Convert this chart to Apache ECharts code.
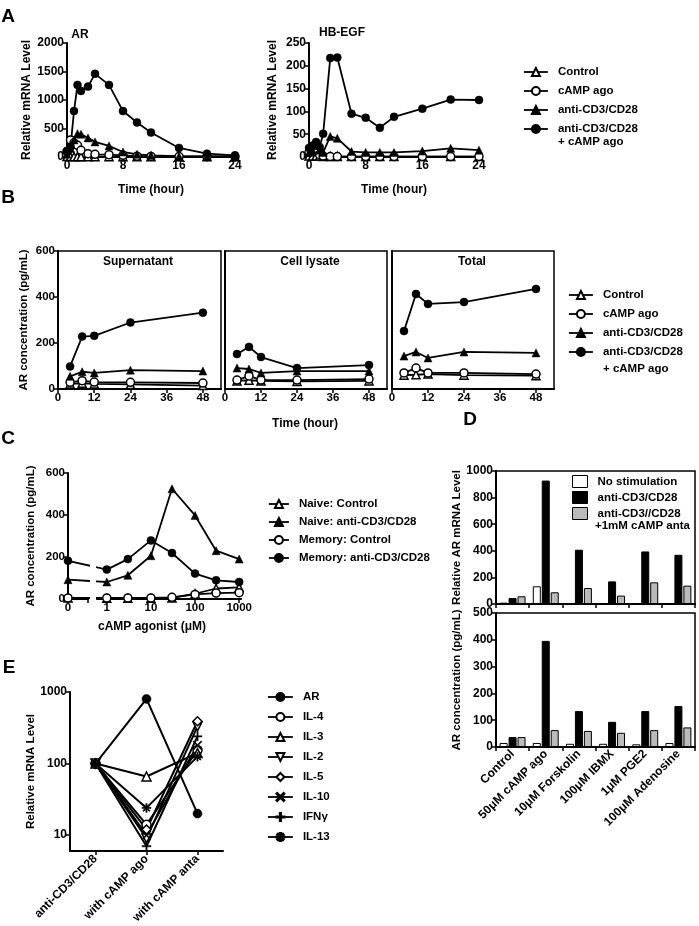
<!DOCTYPE html>
<html>
<head>
<meta charset="utf-8">
<script src="https://cdn.jsdelivr.net/npm/echarts@6/dist/echarts.min.js"></script>
<style>
  html, body { margin: 0; padding: 0; background: #fff; }
  #figure { width: 699px; height: 926px; }
</style>
</head>
<body>
<div id="figure"></div>
<script>
// A: relative mRNA level over time
var aTime = [0, 0.5, 1, 1.5, 2, 3, 4, 6, 8, 10, 12, 16, 20, 24]
var arControl = [8, 8, 6, 6, 5, 5, 5, 5, 5, 5, 5, 5, 5, 5]
var arCamp = [100, 300, 250, 205, 118, 59, 47, 41, 29, 15, 10, 8, 5, 5]
var arCd = [50, 150, 300, 410, 400, 335, 265, 195, 88, 47, 29, 15, 10, 10]
var arCdCamp = [100, 176, 806, 1265, 1159, 1235, 1459, 1265, 806, 606, 429, 159, 59, 29]
var hbControl = [2, 2, 2, 2, 1, 1, 1, 1, 1, 1, 1, 1, 1, 1]
var hbCamp = [10, 14, 12, 5, 2, 1, 1, 1, 1, 1, 1, 1, 1, 1]
var hbCd = [10, 15, 25, 15, 10, 45, 41, 12, 10, 10, 10, 13, 19, 15]
var hbCdCamp = [20, 25, 33, 22, 51, 217, 218, 95, 86, 64, 88, 106, 126, 125]

// B: AR protein (pg/mL)
var bTime = [4, 8, 12, 24, 48]
var supControl = [22, 25, 22, 20, 15]
var supCamp = [29, 36, 30, 29, 26]
var supCd = [55, 75, 70, 82, 78]
var supCdCamp = [98, 228, 231, 289, 332]
var lysControl = [35, 38, 35, 33, 35]
var lysCamp = [39, 57, 39, 39, 43]
var lysCd = [91, 87, 70, 78, 78]
var lysCdCamp = [152, 183, 139, 91, 104]
var totControl = [60, 62, 65, 60, 58]
var totCamp = [70, 91, 70, 70, 65]
var totCd = [143, 161, 135, 161, 157]
var totCdCamp = [252, 413, 370, 378, 435]

// C: dose response, first dose is 0 (drawn on the broken segment)
var cDose = [0, 1, 3, 10, 30, 100, 300, 1000]
var naiveControl = [5, 3, 3, 3, 5, 25, 50, 55]
var naiveCd = [92, 81, 113, 206, 525, 398, 230, 190]
var memoryControl = [5, 5, 5, 5, 8, 22, 28, 30]
var memoryCd = [182, 140, 190, 279, 219, 121, 89, 81]

// D: stimuli
var dCat = ['Control', '50\u03bcM cAMP ago', '10\u03bcM Forskolin', '100\u03bcM IBMX', '1\u03bcM PGE2', '100\u03bcM Adenosine']
var rnaNone = [10, 133, 5, 3, 5, 3]
var rnaCd = [45, 928, 408, 170, 395, 370]
var rnaAnta = [58, 88, 120, 63, 163, 138]
var protNone = [15, 15, 12, 12, 10, 15]
var protCd = [37, 396, 134, 94, 134, 153]
var protAnta = [37, 63, 60, 53, 63, 73]

// E: cytokines
var eCat = ['anti-CD3/CD28', 'with cAMP ago', 'with cAMP anta']
var eAR = [100, 800, 20]
var eIL4 = [100, 14, 155]
var eIL3 = [100, 66, 140]
var eIL2 = [100, 9, 330]
var eIL5 = [100, 12, 390]
var eIL10 = [100, 10, 180]
var eIFNg = [100, 7, 240]
var eIL13 = [100, 24, 125]

var FONT = '"Liberation Sans", Arial, Helvetica, sans-serif'
var ink = '#000'
var N_CTL = 'Control'
var N_CAMP = 'cAMP ago'
var N_CD = 'anti-CD3/CD28'
var N_CDCAMP = 'anti-CD3/CD28 + cAMP ago'
var N_ANTA = 'anti-CD3//CD28 +1mM cAMP anta'
var SHORT = {}
SHORT[N_CDCAMP] = 'anti-CD3/CD28'
SHORT[N_ANTA] = 'anti-CD3//CD28'

var MK = {
  dot: { symbol: 'circle', fill: ink },
  ring: { symbol: 'circle', fill: '#fff' },
  tri: { symbol: 'triangle', fill: ink },
  openTri: { symbol: 'triangle', fill: '#fff' },
  downTri: { symbol: 'triangle', fill: '#fff', rotate: 180 },
  diamond: { symbol: 'diamond', fill: '#fff' },
  cross: { symbol: 'path://M1,0L5,4L9,0L10,1L6,5L10,9L9,10L5,6L1,10L0,9L4,5L0,1Z', fill: ink },
  plus: { symbol: 'path://M4.3,0H5.7V4.3H10V5.7H5.7V10H4.3V5.7H0V4.3H4.3Z', fill: ink },
  star: { symbol: 'path://M4.3,0H5.7V3.3L8.1,0.9L9.1,1.9L6.7,4.3H10V5.7H6.7L9.1,8.1L8.1,9.1L5.7,6.7V10H4.3V6.7L1.9,9.1L0.9,8.1L3.3,5.7H0V4.3H3.3L0.9,1.9L1.9,0.9L4.3,3.3Z', fill: ink }
}

function plain(v) {
  return String(+(+v).toFixed(3))
}

function axis(grid, min, max, interval, extra) {
  return echarts.util.merge({
    type: 'value',
    gridIndex: grid,
    min: min,
    max: max,
    interval: interval,
    axisLine: { show: true, onZero: false, lineStyle: { color: ink, width: 2 } },
    axisTick: { show: true, length: 4, lineStyle: { color: ink, width: 1.5 } },
    axisLabel: { color: ink, fontFamily: FONT, fontWeight: 'bold', fontSize: 12, margin: 3, formatter: plain },
    splitLine: { show: false },
    nameLocation: 'middle',
    nameTextStyle: { color: ink, fontFamily: FONT, fontWeight: 'bold', fontSize: 11.5 }
  }, extra || {}, true)
}

function line(name, g, xs, ys, mk, size, extra) {
  return echarts.util.merge({
    name: name,
    type: 'line',
    xAxisIndex: g,
    yAxisIndex: g,
    data: xs.map(function (x, i) { return [x, ys[i]] }),
    symbol: mk.symbol,
    symbolSize: size || 8,
    symbolRotate: mk.rotate || 0,
    lineStyle: { color: ink, width: 1.8 },
    itemStyle: { color: mk.fill, borderColor: ink, borderWidth: mk.fill === ink ? 0.5 : 1.5 },
    emphasis: { disabled: true },
    animation: false
  }, extra || {}, true)
}

function bar(name, g, ys, color) {
  return {
    name: name,
    type: 'bar',
    xAxisIndex: g,
    yAxisIndex: g,
    data: ys,
    barWidth: 8,
    barGap: '12%',
    itemStyle: { color: color, borderColor: ink, borderWidth: 1 },
    emphasis: { disabled: true },
    animation: false
  }
}

function legend(left, top, names, extra) {
  return echarts.util.merge({
    orient: 'vertical',
    left: left,
    top: top,
    padding: 0,
    itemWidth: 24,
    itemHeight: 10,
    itemGap: 7,
    selectedMode: false,
    data: names,
    lineStyle: { color: ink, width: 1.8 },
    textStyle: { color: ink, fontFamily: FONT, fontWeight: 'bold', fontSize: 11.5, padding: [0, 0, 0, 5] },
    formatter: function (n) { return SHORT[n] || n }
  }, extra || {}, true)
}

function label(text, x, y, size, align) {
  return {
    type: 'text', x: x, y: y, silent: true,
    style: { text: text, fill: ink, font: 'bold ' + (size || 11.5) + 'px ' + FONT, align: align || 'center', verticalAlign: 'middle' }
  }
}

// broken axis in C: where dose 1 falls on the zero segment, and where 0 falls on the log segment
var C1 = { left: 68, width: 20, max: 1 }
var C2 = { left: 97, width: 144, min: 0.6, max: 1100 }
var cLogSpan = Math.log10(C2.max) - Math.log10(C2.min)
var cPxOne = C2.left + C2.width * (0 - Math.log10(C2.min)) / cLogSpan
var cOneOnZero = (cPxOne - C1.left) / C1.width * C1.max
var cZeroOnLog = Math.pow(10, Math.log10(C2.min) + (C1.left - C2.left) / C2.width * cLogSpan)

var grids = [
  { left: 67, top: 43, width: 168, height: 114 },
  { left: 309, top: 43, width: 170, height: 114 },
  { left: 58, top: 251, width: 163, height: 138, show: true, borderColor: ink, borderWidth: 1.5 },
  { left: 225, top: 251, width: 162, height: 138, show: true, borderColor: ink, borderWidth: 1.5 },
  { left: 392, top: 251, width: 162, height: 138, show: true, borderColor: ink, borderWidth: 1.5 },
  { left: C1.left, top: 473, width: C1.width, height: 126 },
  { left: C2.left, top: 473, width: C2.width, height: 126 },
  { left: 496, top: 471, width: 199, height: 133, show: true, borderColor: ink, borderWidth: 1.5 },
  { left: 496, top: 613, width: 199, height: 134, show: true, borderColor: ink, borderWidth: 1.5 },
  { left: 70, top: 692, width: 153, height: 159 }
]
grids.forEach(function (g) { g.containLabel = false; g.outerBoundsMode = 'none' })

var hideLabel = { axisLabel: { show: false }, axisTick: { show: false } }
var timeName = { name: 'Time (hour)', nameGap: 27, nameTextStyle: { fontSize: 12 } }
var small = { axisLabel: { fontSize: 11.5 } }

var xAxes = [
  axis(0, 0, 24, 8, timeName),
  axis(1, 0, 24, 8, timeName),
  axis(2, 0, 54, 12, { axisLabel: { showMaxLabel: false, fontSize: 11.5 } }),
  axis(3, 0, 54, 12, { axisLabel: { showMaxLabel: false, fontSize: 11.5 } }),
  axis(4, 0, 54, 12, { axisLabel: { showMaxLabel: false, fontSize: 11.5 } }),
  axis(5, 0, C1.max, 1, { axisLabel: { fontSize: 11.5, formatter: function (v) { return v === 0 ? '0' : '' } } }),
  axis(6, C2.min, C2.max, null, { type: 'log', logBase: 10, axisLabel: { fontSize: 11.5, showMinLabel: false, showMaxLabel: false } }),
  axis(7, null, null, null, { type: 'category', data: dCat, axisLabel: { show: false } }),
  axis(8, null, null, null, { type: 'category', data: dCat, axisLabel: { rotate: 45, interval: 0, margin: 5, formatter: function (v) { return v } } }),
  axis(9, null, null, null, { type: 'category', data: eCat, axisTick: { alignWithLabel: true }, axisLabel: { rotate: 45, interval: 0, margin: 6, formatter: function (v) { return v } } })
]

var yAxes = [
  axis(0, 0, 2000, 500, { name: 'Relative mRNA Level', nameGap: 34, nameTextStyle: { fontSize: 12 } }),
  axis(1, 0, 250, 50, { name: 'Relative mRNA Level', nameGap: 30, nameTextStyle: { fontSize: 12 } }),
  axis(2, 0, 600, 200, echarts.util.merge({ name: 'AR concentration (pg/mL)', nameGap: 28 }, small)),
  axis(3, 0, 600, 200, hideLabel),
  axis(4, 0, 600, 200, hideLabel),
  axis(5, 0, 600, 200, echarts.util.merge({ name: 'AR concentration (pg/mL)', nameGap: 31 }, small)),
  axis(6, 0, 600, 200, { show: false }),
  axis(7, 0, 1000, 200, { name: 'Relative AR mRNA Level', nameGap: 33 }),
  axis(8, 0, 500, 100, { name: 'AR concentration (pg/mL)', nameGap: 33 }),
  axis(9, 6, 1000, null, { type: 'log', logBase: 10, name: 'Relative mRNA Level', nameGap: 33, axisLabel: { showMinLabel: false } })
]

var series = [
  line(N_CTL, 0, aTime, arControl, MK.openTri),
  line(N_CAMP, 0, aTime, arCamp, MK.ring),
  line(N_CD, 0, aTime, arCd, MK.tri),
  line(N_CDCAMP, 0, aTime, arCdCamp, MK.dot),
  line(N_CTL, 1, aTime, hbControl, MK.openTri),
  line(N_CAMP, 1, aTime, hbCamp, MK.ring),
  line(N_CD, 1, aTime, hbCd, MK.tri),
  line(N_CDCAMP, 1, aTime, hbCdCamp, MK.dot),

  line(N_CTL, 2, bTime, supControl, MK.openTri),
  line(N_CAMP, 2, bTime, supCamp, MK.ring),
  line(N_CD, 2, bTime, supCd, MK.tri),
  line(N_CDCAMP, 2, bTime, supCdCamp, MK.dot),
  line(N_CTL, 3, bTime, lysControl, MK.openTri),
  line(N_CAMP, 3, bTime, lysCamp, MK.ring),
  line(N_CD, 3, bTime, lysCd, MK.tri),
  line(N_CDCAMP, 3, bTime, lysCdCamp, MK.dot),
  line(N_CTL, 4, bTime, totControl, MK.openTri),
  line(N_CAMP, 4, bTime, totCamp, MK.ring),
  line(N_CD, 4, bTime, totCd, MK.tri),
  line(N_CDCAMP, 4, bTime, totCdCamp, MK.dot)
]

// C: log segment carries doses >= 1, zero segment carries dose 0, each bridged toward the other
var cSets = [
  ['Naive: Control', naiveControl, MK.openTri],
  ['Naive: anti-CD3/CD28', naiveCd, MK.tri],
  ['Memory: Control', memoryControl, MK.ring],
  ['Memory: anti-CD3/CD28', memoryCd, MK.dot]
]
cSets.forEach(function (s) {
  series.push(line(s[0], 6, cDose.slice(1), s[1].slice(1), s[2]))
})
cSets.forEach(function (s) {
  var zeroSeg = line(undefined, 5, [0], [s[1][0]], s[2])
  zeroSeg.data.push({ value: [cOneOnZero, s[1][1]], symbol: 'none' })
  var logSeg = line(undefined, 6, [cZeroOnLog, cDose[1]], [s[1][0], s[1][1]], s[2], 8, { symbol: 'none', z: 1 })
  series.push(zeroSeg, logSeg)
})

series.push(
  bar('No stimulation', 7, rnaNone, '#fff'),
  bar(N_CD, 7, rnaCd, ink),
  bar(N_ANTA, 7, rnaAnta, '#bbbbbb'),
  bar('No stimulation', 8, protNone, '#fff'),
  bar(N_CD, 8, protCd, ink),
  bar(N_ANTA, 8, protAnta, '#bbbbbb')
)

var eSets = [
  ['AR', eAR, MK.dot],
  ['IL-4', eIL4, MK.ring],
  ['IL-3', eIL3, MK.openTri],
  ['IL-2', eIL2, MK.downTri],
  ['IL-5', eIL5, MK.diamond],
  ['IL-10', eIL10, MK.cross],
  ['IFN\u03b3', eIFNg, MK.plus],
  ['IL-13', eIL13, MK.star]
]
eSets.forEach(function (s) {
  series.push(line(s[0], 9, eCat, s[1], s[2], 9, { lineStyle: { width: 2 } }))
})

var legends = [
  legend(523, 66, [N_CTL, N_CAMP, N_CD, N_CDCAMP]),
  legend(568, 289, [N_CTL, N_CAMP, N_CD, N_CDCAMP]),
  legend(268, 498, cSets.map(function (s) { return s[0] }), { itemWidth: 20, itemGap: 6 }),
  legend(572, 475, [
    { name: 'No stimulation', icon: 'rect', itemStyle: { color: '#fff', borderColor: ink, borderWidth: 1 } },
    { name: N_CD, icon: 'rect', itemStyle: { color: ink, borderColor: ink, borderWidth: 1 } },
    { name: N_ANTA, icon: 'rect', itemStyle: { color: '#bbbbbb', borderColor: ink, borderWidth: 1 } }
  ], { itemWidth: 15, itemHeight: 12, itemGap: 3 }),
  legend(267, 691, eSets.map(function (s) { return s[0] }), { itemWidth: 25, itemGap: 8 })
]

var texts = [
  label('A', 8, 17, 19),
  label('AR', 80, 35, 12),
  label('HB-EGF', 342, 33, 12),
  label('+ cAMP ago', 558, 142, 11.5, 'left'),
  label('B', 8, 198, 19),
  label('Supernatant', 138, 262, 12),
  label('Cell lysate', 310, 262, 12),
  label('Total', 472, 262, 12),
  label('Time (hour)', 305, 424, 12),
  label('+ cAMP ago', 603, 369, 11.5, 'left'),
  label('C', 8, 439, 19),
  label('cAMP agonist (\u03bcM)', 152, 627, 12),
  label('D', 470, 420, 19),
  label('+1mM cAMP anta', 595, 526, 11.5, 'left'),
  label('E', 9, 668, 19)
]

var myChart = echarts.init(document.getElementById('figure'), null, { renderer: 'canvas' })
var option = {
  backgroundColor: '#fff',
  animation: false,
  textStyle: { fontFamily: FONT },
  grid: grids,
  xAxis: xAxes,
  yAxis: yAxes,
  legend: legends,
  graphic: texts,
  series: series
}
myChart.setOption(option)
</script>
</body>
</html>
